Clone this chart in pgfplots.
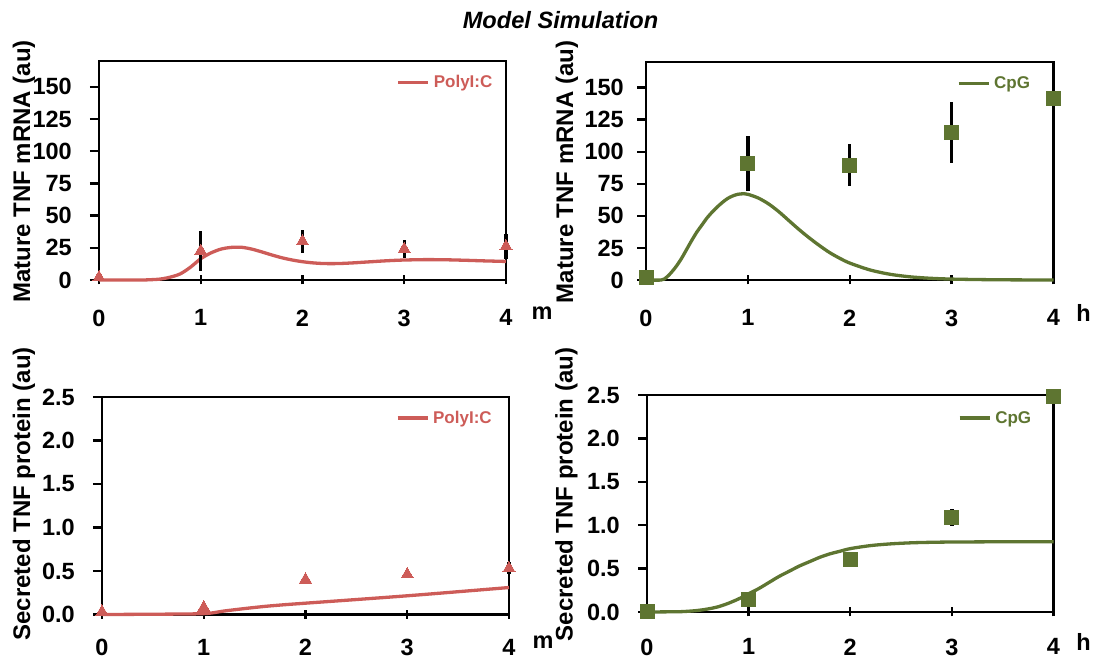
\documentclass[border=0pt]{standalone}
\usepackage{fontspec}
\setmainfont{Liberation Sans}
\usepackage{pgfplots}
\pgfplotsset{compat=1.18}
\usepackage{pgfplotstable}
\definecolor{pred}{RGB}{205,92,88}
\definecolor{pgreen}{RGB}{94,117,49}

% ---- data (markers: x, mean, error) ----
\pgfplotstableread{
x y e
0 2 0
1 22.5 15.5
2 30 9
3 24 7
4 26 10
}\polymrna
\pgfplotstableread{
x y e
0 2 0
1 91 21.5
2 89.5 16.5
3 115 23.5
4 141.5 20.5
}\cpgmrna
\pgfplotstableread{
x y e
0 0.03 0
1 0.08 0.02
2 0.40 0.02
3 0.46 0.02
4 0.53 0.07
}\polyprot
\pgfplotstableread{
x y e
0 0.01 0
1 0.14 0.03
2 0.60 0.03
3 1.09 0.10
4 2.48 0.03
}\cpgprot
% ---- model curves ----
\pgfplotstableread{
x y
0 0
0.4 0
0.5 0.2
0.6 0.7
0.7 2.2
0.8 4.8
0.9 10
1.0 16.5
1.1 21
1.2 24
1.3 25.3
1.4 25.4
1.5 24
1.6 21.8
1.7 19.4
1.8 17.2
1.9 15.5
2.0 14.2
2.1 13.3
2.2 12.8
2.3 12.7
2.4 12.9
2.5 13.3
2.6 13.8
2.7 14.3
2.8 14.8
2.9 15.2
3.0 15.5
3.2 15.8
3.4 15.7
3.6 15.3
3.8 14.8
4.0 14.4
}\polymrnacurve
\pgfplotstableread{
x y
0 0
0.15 0
0.2 2
0.25 6
0.3 11
0.35 17
0.4 24
0.45 31
0.5 37.5
0.55 43
0.6 48.5
0.65 53
0.7 57
0.75 60.5
0.8 63.5
0.85 65.5
0.9 66.8
0.95 67.2
1.0 66.8
1.1 64
1.2 59.5
1.3 53.5
1.4 46.5
1.5 39.5
1.6 33
1.7 27
1.8 21.5
1.9 17
2.0 13.2
2.2 7.8
2.4 4.4
2.6 2.4
2.8 1.3
3.0 0.7
3.3 0.3
3.6 0.1
4.0 0
}\cpgmrnacurve
\pgfplotstableread{
x y
0 0
0.5 0.003
1.0 0.01
1.2 0.04
1.4 0.068
1.6 0.093
1.8 0.113
2.0 0.13
3.0 0.215
4.0 0.31
}\polyprotcurve
\pgfplotstableread{
x y
0 0
0.3 0.003
0.4 0.008
0.5 0.018
0.6 0.035
0.7 0.06
0.8 0.1
0.9 0.15
1.0 0.21
1.1 0.27
1.2 0.34
1.3 0.41
1.4 0.47
1.5 0.53
1.6 0.58
1.7 0.63
1.8 0.67
1.9 0.70
2.0 0.73
2.2 0.765
2.4 0.785
2.6 0.797
2.8 0.803
3.0 0.806
3.5 0.809
4.0 0.81
}\cpgprotcurve

\newcommand{\tickfont}{\bfseries\fontsize{23.5}{28}\selectfont}
\newcommand{\labfont}{\bfseries\fontsize{24}{28}\selectfont}
\newcommand{\legfont}{\bfseries\fontsize{17}{20}\selectfont}

\pgfplotsset{
  panel/.style={
    scale only axis,
    xmin=0, xmax=4, xtick={0,1,2,3,4},
    axis line style={line width=2.2pt},
    every tick/.style={black, line width=2.4pt},
    major tick length=9pt,
    xtick align=center, ytick align=outside,
    xtick pos=bottom, ytick pos=left,
    /pgf/number format/assume math mode=true,
    tick label style={font=\tickfont},
    xticklabel style={inner sep=0pt, anchor=north, yshift=-25pt},
    yticklabel style={inner sep=0pt, anchor=east, xshift=-18pt},
    legend style={draw=none, fill=none, inner sep=0pt, outer sep=0pt, anchor=west,
      font=\legfont, nodes={inner sep=0pt},
      /tikz/every odd column/.append style={column sep=4pt}},
    legend image code/.code={\draw[##1, line width=3.3pt] (0pt,0pt) -- (30pt,0pt);},
    clip=false,
  },
  unit/.style 2 args={xlabel style={at={(axis description cs:1,0)}, anchor=center, inner sep=0pt, xshift=#1, yshift=#2, font=\tickfont}},
  ylab/.style 2 args={every axis y label/.style={at={(axis description cs:0,0.5)}, xshift=#1, yshift=#2, rotate=90, anchor=center, inner sep=0pt, font=\labfont}},
  ebars/.style={error bars/.cd, y dir=both, y explicit, error mark=none,
    error bar style={line width=3.3pt, black}},
  tri/.style={only marks, mark=triangle*, mark size=7pt, mark options={fill=pred, draw=pred, line width=0pt}},
  sq/.style={only marks, mark=square*, mark size=7pt, mark options={fill=pgreen, draw=pgreen, line width=0pt}},
}

\begin{document}
\begin{tikzpicture}
\useasboundingbox (0pt,0pt) rectangle (1096pt,660pt);
\node[font=\bfseries\itshape\fontsize{23.6}{28}\selectfont] at (560.5pt,640pt) {Model Simulation};

% top left
\begin{axis}[panel, at={(99pt,380pt)}, anchor=south west, width=407pt, height=219pt,
  ymin=0, ymax=170, ytick={0,25,50,75,100,125,150},
  xlabel={m}, unit={36pt}{-33pt}, ylabel={Mature TNF mRNA (au)}, ylab={-75pt}{-1pt},
  legend style={at={(axis description cs:0.731,0.902)}, text=pred}]
\addplot[pred, line width=3.3pt, smooth] table[x=x,y=y] {\polymrnacurve};
\addlegendentry{PolyI:C}
\addplot[forget plot, tri, ebars] table[x=x,y=y,y error=e] {\polymrna};
\end{axis}

% top right
\begin{axis}[panel, at={(646pt,380pt)}, anchor=south west, width=407.5pt, height=218pt,
  ymin=0, ymax=170, ytick={0,25,50,75,100,125,150},
  yticklabel style={xshift=5pt},
  xlabel={h}, unit={30pt}{-33pt}, ylabel={Mature TNF mRNA (au)}, ylab={-79pt}{-1pt},
  legend style={at={(axis description cs:0.763,0.90)}, text=pgreen}]
\addplot[pgreen, line width=3.3pt, smooth] table[x=x,y=y] {\cpgmrnacurve};
\addlegendentry{CpG}
\addplot[forget plot, sq, ebars] table[x=x,y=y,y error=e] {\cpgmrna};
\end{axis}

% bottom left
\begin{axis}[panel, at={(102pt,45.5pt)}, anchor=south west, width=407pt, height=217.5pt,
  ymin=0, ymax=2.5, ytick={0,0.5,1,1.5,2,2.5},
  xticklabel style={yshift=5pt},
  yticklabel style={/pgf/number format/.cd, fixed, fixed zerofill, precision=1},
  xlabel={m}, unit={34pt}{-28pt}, ylabel={Secreted TNF protein (au)}, ylab={-78pt}{12pt},
  legend style={at={(axis description cs:0.722,0.903)}, text=pred}]
\addplot[pred, line width=3.3pt, smooth] table[x=x,y=y] {\polyprotcurve};
\addlegendentry{PolyI:C}
\addplot[forget plot, tri, ebars] table[x=x,y=y,y error=e] {\polyprot};
\end{axis}

% bottom right
\begin{axis}[panel, at={(647pt,48pt)}, anchor=south west, width=406.5pt, height=217pt,
  ymin=0, ymax=2.5, ytick={0,0.5,1,1.5,2,2.5},
  xticklabel style={yshift=3pt},
  yticklabel style={/pgf/number format/.cd, fixed, fixed zerofill, precision=1},
  xlabel={h}, unit={30pt}{-30pt}, ylabel={Secreted TNF protein (au)}, ylab={-80.5pt}{9pt},
  legend style={at={(axis description cs:0.765,0.894)}, text=pgreen}]
\addplot[pgreen, line width=3.3pt, smooth] table[x=x,y=y] {\cpgprotcurve};
\addlegendentry{CpG}
\addplot[forget plot, sq, ebars] table[x=x,y=y,y error=e] {\cpgprot};
\end{axis}
\end{tikzpicture}
\end{document}
